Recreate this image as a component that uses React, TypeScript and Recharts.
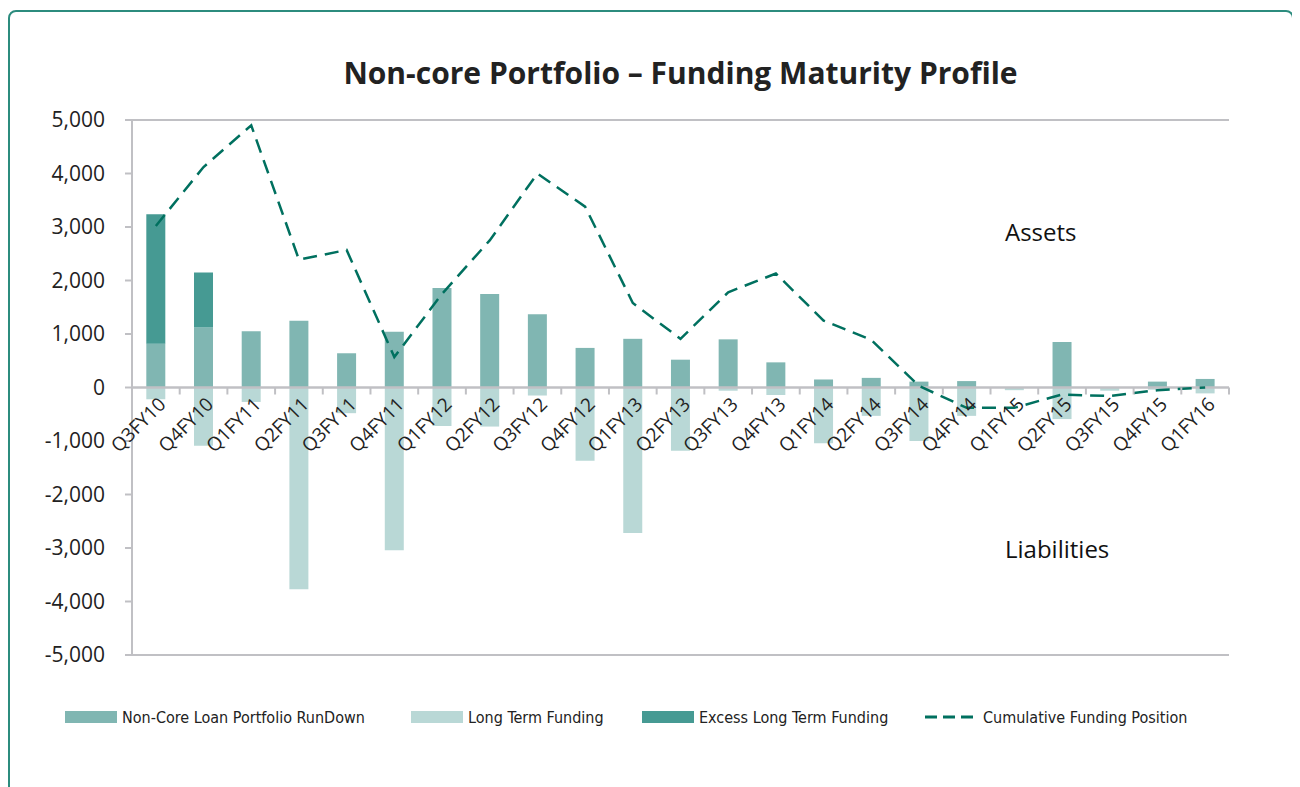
import { ComposedChart, Bar, Line, XAxis, YAxis, ReferenceLine, Legend } from 'recharts';

const categories = [
  'Q3FY10', 'Q4FY10', 'Q1FY11', 'Q2FY11', 'Q3FY11', 'Q4FY11', 'Q1FY12', 'Q2FY12',
  'Q3FY12', 'Q4FY12', 'Q1FY13', 'Q2FY13', 'Q3FY13', 'Q4FY13', 'Q1FY14', 'Q2FY14',
  'Q3FY14', 'Q4FY14', 'Q1FY15', 'Q2FY15', 'Q3FY15', 'Q4FY15', 'Q1FY16',
];
const nonCoreRunDown = [
  820, 1120, 1050, 1250, 640, 1040, 1860, 1750, 1370, 740, 910, 520,
  900, 470, 150, 180, 110, 120, 0, 850, 0, 110, 160,
];
const excessLongTerm = [
  2420, 1030, 0, 0, 0, 0, 0, 0, 0, 0, 0, 0,
  0, 0, 0, 0, 0, 0, 0, 0, 0, 0, 0,
];
const longTermFunding = [
  -220, -1090, -270, -3770, -480, -3040, -720, -730, -150, -1370, -2720, -1180,
  -60, -140, -1040, -530, -1000, -530, -50, -590, -60, -40, -110,
];
const cumulativePosition = [
  3020, 4120, 4900, 2390, 2570, 570, 1750, 2750, 4000, 3380, 1580, 910,
  1780, 2130, 1250, 890, 30, -380, -380, -130, -160, -50, 0,
];
const yTicks = [5000, 4000, 3000, 2000, 1000, 0, -1000, -2000, -3000, -4000, -5000];

const chartData = categories.map((q, i) => ({
  q,
  nonCore: nonCoreRunDown[i],
  excess: excessLongTerm[i],
  longTerm: longTermFunding[i],
  cumulative: cumulativePosition[i],
}));

const NONCORE = '#80b6b2';
const LONGTERM = '#b9d8d6';
const EXCESS = '#469a93';
const LINE = '#00705f';
const AXIS = '#c0c0c4';
const FONT = "'Open Sans', sans-serif";

const CHART_W = 1282;
const CHART_H = 760;
const MARGIN = { top: 108, right: 63, left: 0, bottom: 43 };
const PLOT_H = CHART_H - MARGIN.top - MARGIN.bottom - 50 - 24;
const ZERO_Y = MARGIN.top + PLOT_H / 2;

function CategoryTick(props: any) {
  const { x, payload, index, visibleTicksCount } = props;
  const half = payload.offset || (CHART_W - MARGIN.right - 122) / categories.length / 2;
  const ax = x + 11;
  const ay = ZERO_Y + 18;
  return (
    <g>
      <line x1={x - half} x2={x - half} y1={ZERO_Y} y2={ZERO_Y + 7} stroke={AXIS} strokeWidth={2} />
      {index === visibleTicksCount - 1 && (
        <line x1={x + half} x2={x + half} y1={ZERO_Y} y2={ZERO_Y + 7} stroke={AXIS} strokeWidth={2} />
      )}
      <text
        x={ax}
        y={ay}
        textAnchor="end"
        transform={`rotate(-45 ${ax} ${ay})`}
        fill="#222"
        fontSize={19}
        fontFamily={FONT}
      >
        {payload.value}
      </text>
    </g>
  );
}

const legendItems = [
  { label: 'Non-Core Loan Portfolio RunDown', color: NONCORE, line: false },
  { label: 'Long Term Funding', color: LONGTERM, line: false },
  { label: 'Excess Long Term Funding', color: EXCESS, line: false },
  { label: 'Cumulative Funding Position', color: LINE, line: true },
];
const legendWidths = [346, 231, 283, 300];

function ChartLegend() {
  return (
    <div style={{ display: 'flex', height: 24, alignItems: 'center', paddingLeft: 55 }}>
      {legendItems.map((item, i) => (
        <div key={item.label} style={{ width: legendWidths[i], display: 'flex', alignItems: 'center' }}>
          {item.line ? (
            <svg width={52} height={12} style={{ marginRight: 6 }}>
              <line x1={0} x2={52} y1={6} y2={6} stroke={item.color} strokeWidth={3} strokeDasharray="12 6" />
            </svg>
          ) : (
            <div style={{ width: 52, height: 12, background: item.color, marginRight: 5 }} />
          )}
          <span style={{ fontFamily: "'Liberation Sans Narrow', 'DejaVu Sans Condensed', sans-serif", fontSize: 16, color: '#222' }}>
            {item.label}
          </span>
        </div>
      ))}
    </div>
  );
}

export default function App() {
  return (
    <div style={{ paddingTop: 2 }}>
      <div
        style={{
          position: 'relative',
          width: CHART_W,
          height: 790,
          border: '2px solid #2c8c7e',
          borderRadius: 8,
          fontFamily: FONT,
        }}
      >
        <div
          style={{
            position: 'absolute',
            left: 122,
            width: CHART_W - MARGIN.right - 122,
            top: 40,
            textAlign: 'center',
            fontSize: 30,
            fontWeight: 700,
            color: '#222',
          }}
        >
          Non-core Portfolio – Funding Maturity Profile
        </div>
        <div style={{ position: 'absolute', left: 995, top: 203, fontSize: 24, color: '#111' }}>Assets</div>
        <div style={{ position: 'absolute', left: 995, top: 520, fontSize: 24, color: '#111' }}>Liabilities</div>
        <ComposedChart
          width={CHART_W}
          height={CHART_H}
          data={chartData}
          margin={MARGIN}
          stackOffset="sign"
          barCategoryGap="30%"
        >
          <XAxis
            dataKey="q"
            axisLine={false}
            tickLine={false}
            interval={0}
            height={50}
            tick={<CategoryTick />}
          />
          <YAxis
            width={122}
            domain={[-5000, 5000]}
            ticks={yTicks}
            interval={0}
            allowDataOverflow
            stroke={AXIS}
            axisLine={{ stroke: AXIS, strokeWidth: 2 }}
            tickLine={{ stroke: AXIS, strokeWidth: 2 }}
            tickSize={7}
            tickMargin={20}
            tick={{ fill: '#222', fontSize: 21, fontFamily: FONT }}
            tickFormatter={(v: number) => v.toLocaleString('en-US')}
          />
          <Legend verticalAlign="bottom" content={() => <ChartLegend />} />
          <Bar dataKey="nonCore" stackId="a" fill={NONCORE} isAnimationActive={false} />
          <Bar dataKey="excess" stackId="a" fill={EXCESS} isAnimationActive={false} />
          <Bar dataKey="longTerm" stackId="a" fill={LONGTERM} isAnimationActive={false} />
          <ReferenceLine y={5000} stroke={AXIS} strokeWidth={2} />
          <ReferenceLine y={-5000} stroke={AXIS} strokeWidth={2} />
          <ReferenceLine y={0} stroke={AXIS} strokeWidth={2.5} />
          <Line
            dataKey="cumulative"
            type="linear"
            stroke={LINE}
            strokeWidth={2.5}
            strokeDasharray="14 8"
            dot={false}
            activeDot={false}
            isAnimationActive={false}
          />
        </ComposedChart>
      </div>
    </div>
  );
}
